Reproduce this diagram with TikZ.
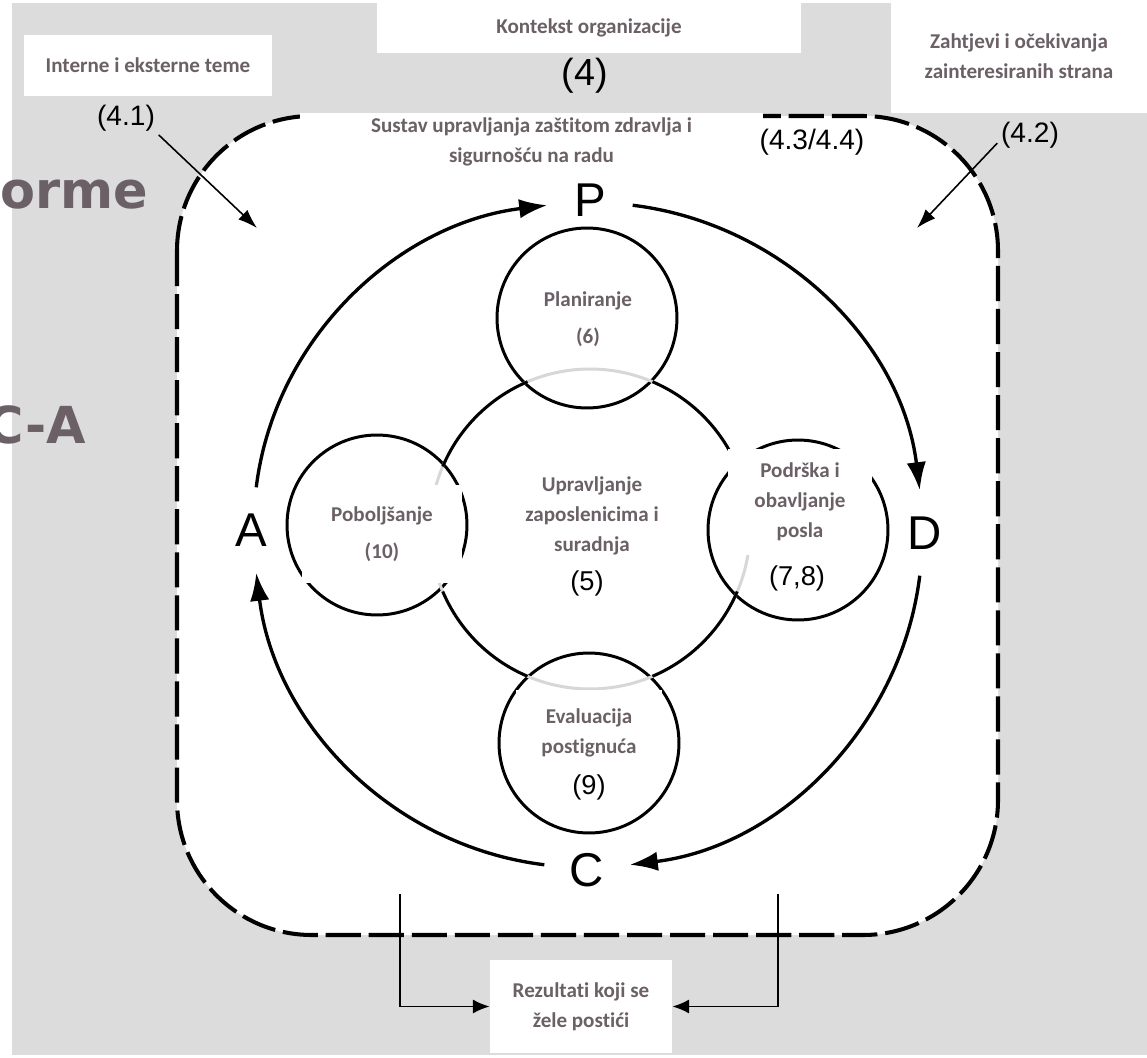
\documentclass[tikz,border=0pt]{standalone}
\usepackage{fontspec}
\setmainfont{Carlito}[Ligatures=NoCommon]
\newfontfamily\arialfont{Liberation Sans}
\newfontfamily\dejafont{DejaVu Sans}
\usepackage{xcolor}
\usetikzlibrary{arrows.meta}

\definecolor{bggray}{RGB}{220,220,220}
\definecolor{txtgray}{RGB}{106,96,102}
\definecolor{ringgray}{RGB}{215,215,215}

\begin{document}
\begin{tikzpicture}[x=0.02cm,y=0.02cm]
\tikzstyle{every node}=[font=\fontsize{12}{17}\selectfont\bfseries]
\tikzstyle{textbox}=[fill=white,inner sep=0pt,align=center,text=txtgray]
\tikzstyle{clausenum}=[inner sep=2pt,font=\arialfont\fontsize{16}{19}\selectfont]
\tikzstyle{phasenum}=[font=\arialfont\fontsize{15.5}{18}\selectfont]
\tikzstyle{pdcaletter}=[circle,minimum size=1.72cm,inner sep=0pt,outer sep=0pt,font=\arialfont\fontsize{27}{30}\selectfont]
\tikzstyle{phasecirc}=[circle,draw,line width=1.7pt,fill=white,minimum size=3.6cm,inner sep=0pt,outer sep=0pt]
\tikzstyle{cyclearrow}=[line width=1.9pt,-{Latex[length=16pt,width=11pt]}]
\tikzstyle{clausearrow}=[line width=0.9pt,-{Latex[length=11pt,width=7.5pt]}]
\tikzstyle{resultarrow}=[line width=1.1pt,-{Latex[length=9.5pt,width=8pt]}]
\tikzstyle{boundary}=[fill=white,line width=2.3pt,dash pattern=on 20pt off 4.5pt,rounded corners=2.7cm]
\tikzstyle{fragment}=[inner sep=0pt,text=txtgray,font=\dejafont\bfseries\fontsize{29}{32}\selectfont]

\useasboundingbox (0,0) rectangle (1147,-1058);
\fill[bggray] (12,-3) rectangle (1147,-1055);

% left-over slide title
\node at (0,-208) [fragment,anchor=base west] (orme) {orme};
\node at (86,-443) [fragment,anchor=base east] (pdca) {C-A};

\draw[boundary] (177,-116) rectangle (998,-935);

% context boxes
\node at (148,-65.5) [textbox,minimum width=4.96cm,minimum height=1.22cm] (intext) {Interne i eksterne teme};
\node at (589,-28) [textbox,minimum width=8.48cm,minimum height=1cm] (kontekst) {Kontekst organizacije};
\node at (1019,-56.5) [textbox,minimum width=5.12cm,minimum height=2.26cm] (zahtjevi) {Zahtjevi i očekivanja\\zainteresiranih strana};
\node at (531.5,-142) [textbox,minimum width=9.26cm,minimum height=1.16cm] (sustav) {Sustav upravljanja zaštitom zdravlja i\\sigurnošću na radu};
\node at (581,-1006.5) [textbox,minimum width=3.64cm,minimum height=1.86cm] (rezultati) {Rezultati koji se\\žele postići};

\node at (585,-76) [inner sep=2pt,font=\arialfont\fontsize{21.5}{24}\selectfont] (n4) {(4)};
\node at (126,-118) [clausenum] (n41) {(4.1)};
\node at (1030,-135) [clausenum] (n42) {(4.2)};
\node at (812,-142) [clausenum] (n43) {(4.3/4.4)};

\coordinate (t41) at (257,-228);
\coordinate (t42) at (917,-228);
\path [draw,clausearrow] (n41.south east) -- (t41);
\path [draw,clausearrow] (n42.194) -- (t42);

% P-D-C-A
\node at (590,-200) [pdcaletter] (P) {P};
\node at (925,-533) [pdcaletter] (D) {D};
\node at (587,-870) [pdcaletter] (C) {C};
\node at (251,-530) [pdcaletter] (A) {A};

\path [draw,cyclearrow] (A) to[out=83,in=187,looseness=0.95] (P);
\path [draw,cyclearrow] (P) to[out=-7,in=97,looseness=0.95] (D);
\path [draw,cyclearrow] (D) to[out=-97,in=7,looseness=0.95] (C);
\path [draw,cyclearrow] (C) to[out=173,in=-83,looseness=0.95] (A);

% phases
\node at (587,-318) [phasecirc] (plan) {};
\node at (798,-530) [phasecirc] (podr) {};
\node at (589,-743) [phasecirc] (eval) {};
\node at (377,-525) [phasecirc] (pobo) {};
\node at (590,-529) [circle,draw=ringgray,line width=1.7pt,minimum size=6.4cm,inner sep=0pt,outer sep=0pt] (uprav) {};
\draw[line width=1.7pt] (uprav.23) arc[start angle=23,end angle=67,radius=3.2cm];
\draw[line width=1.7pt] (uprav.113) arc[start angle=113,end angle=157,radius=3.2cm];
\draw[line width=1.7pt] (uprav.203) arc[start angle=203,end angle=247,radius=3.2cm];
\draw[line width=1.7pt] (uprav.293) arc[start angle=293,end angle=337,radius=3.2cm];

\node at (588,-319) [textbox] (plantxt) {Planiranje\\[4pt](6)};
\node at (592,-516) [textbox] (upravtxt) {Upravljanje\\zaposlenicima i\\suradnja};
\node at (587,-583) [phasenum] (upravnum) {(5)};
\node at (382,-534) [textbox,minimum width=3.2cm,minimum height=1.96cm] (pobotxt) {Poboljšanje\\[4pt](10)};
\node at (800,-502) [textbox,minimum width=2.88cm,minimum height=2.12cm] (podrtxt) {Podrška i\\obavljanje\\posla};
\node at (797,-578) [phasenum] (podrnum) {(7,8)};
\node at (589,-732.5) [textbox,minimum width=2.92cm,minimum height=1.7cm] (evaltxt) {Evaluacija\\postignuća};
\node at (589,-787) [phasenum] (evalnum) {(9)};

% results
\coordinate (rl) at (400,-894);
\coordinate (rr) at (778,-894);
\path [draw,resultarrow] (rl) |- (rezultati.west);
\path [draw,resultarrow] (rr) |- (rezultati.east);

\end{tikzpicture}
\end{document}
